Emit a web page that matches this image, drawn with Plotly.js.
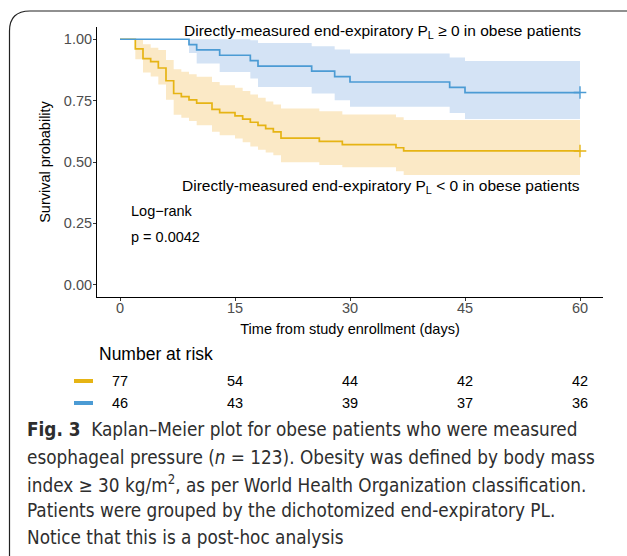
<!DOCTYPE html>
<html>
<head>
<meta charset="utf-8">
<script src="https://cdn.plot.ly/plotly-3.0.1.min.js"></script>
<style>
  html, body { margin: 0; padding: 0; background: #fff; }
  #chart { width: 627px; height: 556px; }
</style>
</head>
<body>
<div id="chart"></div>
<script>
// ---- Data ----
// Group PL < 0 (yellow), n = 77
const yellowTime  = [0, 2, 3, 4, 5, 6, 7, 8, 9, 10, 12, 13, 15, 16, 17, 18, 19, 20, 21, 26, 29, 36, 37, 60];
const yellowSurv  = [1, 0.961, 0.921, 0.909, 0.883, 0.831, 0.779, 0.766, 0.753, 0.740, 0.714, 0.701, 0.688, 0.675, 0.662, 0.649, 0.636, 0.623, 0.597, 0.584, 0.571, 0.558, 0.545, 0.545];
const yellowUpper = [1, 1.000, 0.980, 0.965, 0.956, 0.916, 0.878, 0.868, 0.858, 0.847, 0.826, 0.813, 0.802, 0.789, 0.775, 0.762, 0.746, 0.734, 0.718, 0.707, 0.694, 0.682, 0.671, 0.671];
const yellowLower = [1, 0.919, 0.865, 0.848, 0.816, 0.754, 0.693, 0.680, 0.667, 0.650, 0.623, 0.609, 0.596, 0.580, 0.563, 0.550, 0.539, 0.527, 0.499, 0.488, 0.479, 0.462, 0.447, 0.447];

// Group PL >= 0 (blue), n = 46
const blueTime  = [0, 9, 10, 13, 17, 18, 25, 28, 30, 43, 45, 60];
const blueSurv  = [1, 0.978, 0.957, 0.935, 0.913, 0.891, 0.870, 0.848, 0.826, 0.804, 0.783, 0.783];
const blueUpper = [1, 1.000, 1.000, 1.000, 0.996, 0.985, 0.972, 0.958, 0.942, 0.926, 0.911, 0.911];
const blueLower = [1, 0.944, 0.901, 0.867, 0.840, 0.806, 0.779, 0.752, 0.725, 0.700, 0.675, 0.675];

// Censor marks
const yellowCensorTime = [60];
const yellowCensorSurv = [0.545];
const blueCensorTime = [60];
const blueCensorSurv = [0.783];

// Number at risk
const riskTimes  = [0, 15, 30, 45, 60];
const riskYellow = [77, 54, 44, 42, 42];
const riskBlue   = [46, 43, 39, 37, 36];

const xTicks = [0, 15, 30, 45, 60];
const yTicks = [0, 0.25, 0.5, 0.75, 1];
const yTickText = ['0.00', '0.25', '0.50', '0.75', '1.00'];

const captionLines = [
  '<b>Fig. 3</b>  Kaplan–Meier plot for obese patients who were measured',
  'esophageal pressure (<i>n</i> = 123). Obesity was defined by body mass',
  'index ≥ 30 kg/m<sup>2</sup>, as per World Health Organization classification.',
  'Patients were grouped by the dichotomized end-expiratory PL.',
  'Notice that this is a post-hoc analysis'
];

// ---- Styling ----
const W = 627, H = 556;
const M = {l: 97, r: 24, t: 27, b: 259};
const PW = W - M.l - M.r, PH = H - M.t - M.b;
const px = x => (x - M.l) / PW;          // pixel -> paper (x)
const py = y => (H - M.b - y) / PH;      // pixel -> paper (y)

const YEL = '#E6B414', YEL_BAND = '#FBE9C6';
const BLU = '#4B9BD4', BLU_BAND = '#D4E3F5';
const FONT = '"Liberation Sans", Arial, Helvetica, sans-serif';
const CAP_FONT = '"DejaVu Sans Condensed", "Liberation Sans", sans-serif';

function band(t, up, lo, color) {
  return [
    {x: t, y: up, mode: 'lines', line: {shape: 'hv', width: 0, color: color}, hoverinfo: 'skip', showlegend: false},
    {x: t, y: lo, mode: 'lines', line: {shape: 'hv', width: 0, color: color}, fill: 'tonexty', fillcolor: color, hoverinfo: 'skip', showlegend: false}
  ];
}

const traces = [
  ...band(yellowTime, yellowUpper, yellowLower, YEL_BAND),
  ...band(blueTime, blueUpper, blueLower, BLU_BAND),
  {x: yellowTime, y: yellowSurv, mode: 'lines', line: {shape: 'hv', width: 1.7, color: YEL}, showlegend: false},
  {x: blueTime, y: blueSurv, mode: 'lines', line: {shape: 'hv', width: 1.7, color: BLU}, showlegend: false},
  {x: yellowCensorTime, y: yellowCensorSurv, mode: 'markers', marker: {symbol: 'cross-thin', size: 9, line: {width: 1.4, color: YEL}}, showlegend: false},
  {x: blueCensorTime, y: blueCensorSurv, mode: 'markers', marker: {symbol: 'cross-thin', size: 9, line: {width: 1.4, color: BLU}}, showlegend: false}
];

const annotations = [
  {xref: 'paper', yref: 'paper', x: px(583), y: py(32), xanchor: 'right', yanchor: 'middle', showarrow: false,
   text: 'Directly-measured end-expiratory P<sub>L</sub> ≥ 0 in obese patients', font: {family: FONT, size: 15.5, color: '#000'}},
  {xref: 'paper', yref: 'paper', x: px(582), y: py(186), xanchor: 'right', yanchor: 'middle', showarrow: false,
   text: 'Directly-measured end-expiratory P<sub>L</sub> < 0 in obese patients', font: {family: FONT, size: 15.5, color: '#000'}},
  {xref: 'paper', yref: 'paper', x: px(129), y: py(211), xanchor: 'left', yanchor: 'middle', showarrow: false,
   text: 'Log\u2212rank', font: {family: FONT, size: 14.5, color: '#000'}},
  {xref: 'paper', yref: 'paper', x: px(129), y: py(237), xanchor: 'left', yanchor: 'middle', showarrow: false,
   text: 'p = 0.0042', font: {family: FONT, size: 14.5, color: '#000'}},
  {xref: 'paper', yref: 'paper', x: px(97), y: py(354), xanchor: 'left', yanchor: 'middle', showarrow: false,
   text: 'Number at risk', font: {family: FONT, size: 17.5, color: '#000'}}
];

const capY = [430, 457, 484, 510.5, 537];
captionLines.forEach((line, i) => {
  annotations.push({xref: 'paper', yref: 'paper', x: px(25), y: py(capY[i]), xanchor: 'left', yanchor: 'middle',
    align: 'left', showarrow: false, text: line, font: {family: CAP_FONT, size: 18.8, color: '#2E2E2E'}});
});

riskTimes.forEach((t, i) => {
  annotations.push({xref: 'x', yref: 'paper', x: t, y: py(381), xanchor: 'center', yanchor: 'middle', showarrow: false,
    text: String(riskYellow[i]), font: {family: FONT, size: 14.5, color: '#000'}});
  annotations.push({xref: 'x', yref: 'paper', x: t, y: py(403), xanchor: 'center', yanchor: 'middle', showarrow: false,
    text: String(riskBlue[i]), font: {family: FONT, size: 14.5, color: '#000'}});
});

const framePath = `M ${px(640)},${py(11)} L ${px(30)},${py(11)} Q ${px(9.5)},${py(11)} ${px(9.5)},${py(31)} L ${px(9.5)},${py(560)}`;

const shapes = [
  {type: 'line', xref: 'paper', yref: 'paper', x0: px(74), x1: px(93), y0: py(381), y1: py(381), line: {color: YEL, width: 4}},
  {type: 'line', xref: 'paper', yref: 'paper', x0: px(74), x1: px(93), y0: py(403), y1: py(403), line: {color: BLU, width: 4}},
  {type: 'path', xref: 'paper', yref: 'paper', path: framePath, line: {color: '#222', width: 1.2}}
];

const layout = {
  width: W, height: H,
  margin: M,
  paper_bgcolor: '#fff', plot_bgcolor: '#fff',
  showlegend: false,
  font: {family: FONT, color: '#000'},
  xaxis: {
    range: [-3, 63], tickvals: xTicks, ticktext: xTicks.map(String),
    showgrid: false, zeroline: false, showline: true, linecolor: '#000', linewidth: 1,
    ticks: 'outside', ticklen: 3, tickcolor: '#333', tickwidth: 1,
    ticklabelstandoff: -5,
    tickfont: {family: FONT, size: 14.5, color: '#4D4D4D'},
    title: {text: 'Time from study enrollment (days)', font: {family: FONT, size: 14.5, color: '#000'}, standoff: 8}
  },
  yaxis: {
    range: [-0.05, 1.05], tickvals: yTicks, ticktext: yTickText,
    showgrid: false, zeroline: false, showline: true, linecolor: '#000', linewidth: 1,
    ticks: 'outside', ticklen: 3, tickcolor: '#333', tickwidth: 1,
    ticklabelstandoff: -2,
    tickfont: {family: FONT, size: 14.5, color: '#4D4D4D'},
    title: {text: 'Survival probability', font: {family: FONT, size: 14.5, color: '#000'}, standoff: 9}
  },
  annotations: annotations,
  shapes: shapes
};

Plotly.newPlot('chart', traces, layout, {displayModeBar: false, staticPlot: true});
</script>
</body>
</html>
